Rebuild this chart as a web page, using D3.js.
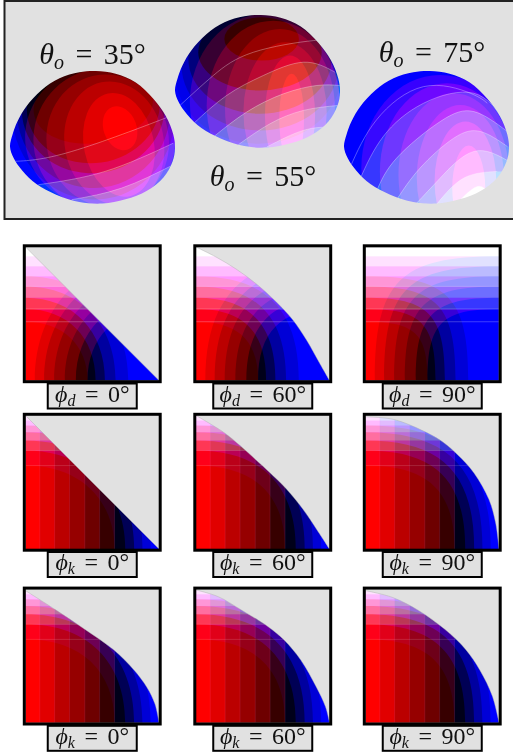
<!DOCTYPE html>
<html>
<head>
<meta charset="utf-8">
<script src="https://cdn.jsdelivr.net/npm/d3@7"></script>
<style>
  html, body { margin: 0; padding: 0; background: #fff; }
  svg { display: block; }
  text { font-family: "Liberation Serif", "DejaVu Serif", serif; fill: #111; }
</style>
</head>
<body>
<div id="chart"></div>
<script>
// channel levels of the colour bands
const redLevels = [55, 110, 150, 187, 225, 255];
const greenLevels = [55, 110, 150, 187, 225, 255];
const blueLevels = [25, 85, 160, 215, 255];

// phi_d row: where the bands meet the frame (unit square, origin bottom left)
const redFootD = [0.465, 0.377, 0.295, 0.215, 0.14, 0.07];
const redTopD = [0.535, 0.62, 0.705, 0.78, 0.855, 0.93];
const blueFootD = [0.465, 0.525, 0.595, 0.675, 0.77];
const blueSideD = [0.44, 0.535, 0.62, 0.705, 0.78];
const greenStepD = [0.535, 0.62, 0.705, 0.78, 0.855, 0.93];

// phi_k rows
const redFootK = [0.667, 0.555, 0.444, 0.33, 0.218, 0.107];
const blueFootK = [0.667, 0.747, 0.814, 0.876, 0.938];
const blueSideK = [0.625, 0.7375, 0.8125, 0.875, 0.925];
const greenStepK = [0.7375, 0.8125, 0.875, 0.925, 0.9625];

// upper limit of each square panel
const edgeD0 = [[0, 1], [1, 0]];
const edgeD60 = [[0, 1], [0.15, 0.925], [0.3, 0.835], [0.45, 0.725], [0.6, 0.59], [0.72, 0.46], [0.83, 0.3], [0.92, 0.14], [1, 0]];
const edgeD90 = [[0, 1], [1, 1], [1, 0]];
const edgeK0 = [[0, 1], [1, 0]];
const edgeK60 = [[0, 1], [0.206, 0.875], [0.33, 0.775], [0.454, 0.6625], [0.55, 0.575], [0.677, 0.45], [0.8, 0.3], [0.91, 0.1375], [1, 0]];
const edgeK90 = [[0, 0.99], [0.2125, 0.97], [0.4625, 0.87], [0.5875, 0.795], [0.6875, 0.708], [0.8125, 0.57], [0.925, 0.37], [0.975, 0.195], [1, 0]];
const edgeK0b = [[0, 0.99], [0.22, 0.85], [0.4375, 0.705], [0.6625, 0.545], [0.8125, 0.395], [0.91, 0.265], [0.97, 0.14], [1, 0]];
const edgeK60b = [[0, 0.995], [0.166, 0.945], [0.34, 0.845], [0.54, 0.72], [0.66, 0.62], [0.785, 0.47], [0.9, 0.27], [0.97, 0.12], [1, 0]];
const edgeK90b = [[0, 0.99], [0.2, 0.94], [0.4, 0.84], [0.594, 0.7], [0.75, 0.55], [0.857, 0.394], [0.95, 0.2], [1, 0]];

const panelEdges = [edgeD0, edgeD60, edgeD90, edgeK0, edgeK60, edgeK90, edgeK0b, edgeK60b, edgeK90b];
const panelSymbols = ["d", "d", "d", "k", "k", "k", "k", "k", "k"];
const panelAngles = ["0", "60", "90", "0", "60", "90", "0", "60", "90"];
const panelBends = [0.6, 0.68, 0.8, 0.6, 0.65, 0.7, 0.62, 0.65, 0.7];

// hemispheres: ellipses are [level, centre u, centre v, radius u, radius v, turn]
const domeAngles = ["35", "55", "75"];
const domeOutline = [[0, 0.43], [0.015, 0.52], [0.045, 0.62], [0.1, 0.735], [0.19, 0.855], [0.3, 0.945], [0.42, 0.99], [0.52, 1], [0.64, 0.98], [0.76, 0.915], [0.87, 0.79], [0.945, 0.66], [0.99, 0.52], [1, 0.42], [0.985, 0.32], [0.93, 0.2], [0.83, 0.1], [0.7, 0.035], [0.56, 0.003], [0.42, 0.015], [0.28, 0.07], [0.16, 0.15], [0.075, 0.25], [0.022, 0.345]];

const dome35Red = [
  [55, 0.556, 0.515, 0.465, 0.5375, -8], [110, 0.572, 0.4825, 0.43, 0.5375, -10], [150, 0.592, 0.475, 0.37, 0.5, -12],
  [187, 0.632, 0.4575, 0.3, 0.4675, -12], [225, 0.66, 0.445, 0.212, 0.395, -12], [255, 0.667, 0.57, 0.1, 0.17, -20]];
const dome35Blue = [
  [215, 0.505, 0.695, 0.495, 0.6625, -8], [160, 0.505, 0.7075, 0.465, 0.5875, -8], [85, 0.505, 0.72, 0.434, 0.4875, -8],
  [25, 0.505, 0.7325, 0.404, 0.425, -8], [0, 0.505, 0.745, 0.364, 0.2875, -8]];
const dome35Green = [
  [8, [[0.01, 0.32], [0.374, 0.395], [0.94, 0.645], [0.99, 0.67]]],
  [55, [[0.172, 0.145], [0.576, 0.245], [0.99, 0.4575]]],
  [110, [[0.374, 0.0325], [0.677, 0.12], [0.99, 0.295]]]];

const dome55Red = [
  [55, 0.545, 0.345, 0.455, 0.6625, 0], [110, 0.596, 0.32, 0.404, 0.6375, 0], [150, 0.636, 0.295, 0.333, 0.6, 0],
  [187, 0.667, 0.27, 0.2525, 0.525, 0], [225, 0.697, 0.245, 0.152, 0.45, 0], [255, 0.707, 0.22, 0.075, 0.3375, 0]];
const dome55Blue = [
  [235, 0.505, 0.57, 0.505, 0.5375, 0], [190, 0.515, 0.62, 0.475, 0.4875, 0], [125, 0.515, 0.67, 0.434, 0.4125, 0],
  [50, 0.515, 0.72, 0.374, 0.2875, 0], [0, 0.525, 0.82, 0.226, 0.1625, 0]];
const dome55Green = [
  [8, [[0.03, 0.32], [0.232, 0.545], [0.475, 0.72], [0.838, 0.8075], [0.94, 0.795]]],
  [55, [[0.111, 0.1825], [0.313, 0.395], [0.535, 0.545], [0.778, 0.645], [0.97, 0.57]]],
  [110, [[0.232, 0.0825], [0.434, 0.27], [0.657, 0.4075], [0.859, 0.47], [1, 0.47]]],
  [150, [[0.384, 0.025], [0.576, 0.1825], [0.778, 0.2825], [0.99, 0.32]]],
  [187, [[0.556, 0.0075], [0.778, 0.1325], [0.96, 0.1575]]]];

const dome75Red = [
  [55, 0.583, 0.27, 0.478, 0.7, 0], [110, 0.624, 0.245, 0.4065, 0.6625, 0], [150, 0.665, 0.22, 0.335, 0.6125, 0],
  [187, 0.705, 0.195, 0.264, 0.55, 0], [225, 0.736, 0.17, 0.187, 0.45, 0], [255, 0.756, 0.12, 0.1, 0.32, 0]];
const dome75Blue = [];
const dome75Green = [
  [8, [[0.035, 0.27], [0.197, 0.6325], [0.482, 0.8825], [0.766, 0.8325], [0.868, 0.7575]]],
  [55, [[0.095, 0.1825], [0.238, 0.5075], [0.482, 0.7575], [0.787, 0.8325], [0.97, 0.62]]],
  [110, [[0.197, 0.095], [0.319, 0.345], [0.583, 0.62], [0.787, 0.695], [0.99, 0.545]]],
  [150, [[0.319, 0.0325], [0.461, 0.27], [0.665, 0.495], [0.827, 0.545], [0.99, 0.4325]]],
  [187, [[0.441, 0.0075], [0.583, 0.195], [0.787, 0.395], [1, 0.32]]],
  [225, [[0.563, 0], [0.726, 0.195], [0.929, 0.245]]],
  [255, [[0.685, 0.0075], [0.787, 0.12], [0.848, 0.12], [0.9, 0.05]]]];

const domeReds = [dome35Red, dome55Red, dome75Red];
const domeBlues = [dome35Blue, dome55Blue, dome75Blue];
const domeGreens = [dome35Green, dome55Green, dome75Green];

// layout
const width = 513, height = 755;
const colLeft = [25.5, 196, 365.5], rowTop = [247, 415.5, 589.3], side = 133.5;
const domeLeft = [10, 175, 344], domeTop = [71, 15, 71], domeW = 165, domeH = 133;
const domeLabelX = [92.5, 263, 432], domeLabelY = [64, 186, 62];
const grey = "#e1e1e1";

const svg = d3.select("#chart").append("svg").attr("width", width).attr("height", height);
const defs = svg.append("defs");
const soft = defs.append("filter").attr("id", "soft").attr("color-interpolation-filters", "sRGB")
  .attr("x", "-5%").attr("y", "-5%").attr("width", "110%").attr("height", "110%");
soft.append("feGaussianBlur").attr("stdDeviation", 0.45);

const channel = {
  r: v => `rgb(${v},0,0)`,
  g: v => `rgb(0,${v},0)`,
  b: v => `rgb(0,0,${v})`
};

// one colour channel: black or full base, blended over the others
function layer(parent, x, y, key, base) {
  const g = parent.append("g").style("mix-blend-mode", "screen");
  g.append("rect")
    .attr("x", x(0)).attr("y", y(1))
    .attr("width", x(1) - x(0)).attr("height", y(0) - y(1))
    .attr("fill", channel[key](base));
  return g;
}

// band region left of and above a foot-to-right-edge arc
function redArc(x, y, foot, top, bend) {
  const p = d3.path();
  p.moveTo(x(foot), y(0));
  p.bezierCurveTo(x(foot), y(bend * top), x(1 - bend * (1 - foot)), y(top), x(1), y(top));
  p.lineTo(x(1), y(1)); p.lineTo(x(0), y(1)); p.lineTo(x(0), y(0));
  p.closePath();
  return p.toString();
}

// band region right of and above a foot-to-left-edge arc
function blueArc(x, y, foot, top, bend) {
  const p = d3.path();
  p.moveTo(x(foot), y(0));
  p.bezierCurveTo(x(foot), y(bend * top), x(bend * foot), y(top), x(0), y(top));
  p.lineTo(x(0), y(1)); p.lineTo(x(1), y(1)); p.lineTo(x(1), y(0));
  p.closePath();
  return p.toString();
}

function drawSquare(i) {
  const left = colLeft[i % 3], top = rowTop[Math.floor(i / 3)];
  const x = d3.scaleLinear().domain([0, 1]).range([left, left + side]);
  const y = d3.scaleLinear().domain([0, 1]).range([top + side, top]);
  const edge = panelEdges[i], bend = panelBends[i];
  const isD = panelSymbols[i] === "d" ? true : false;

  const shape = d3.line().x(d => x(d[0])).y(d => y(d[1]))
    .curve(edge.length > 3 ? d3.curveCatmullRom : d3.curveLinear);
  const clipD = shape(edge) + `L${x(0)},${y(0)}Z`;

  svg.append("rect").attr("x", left).attr("y", top).attr("width", side).attr("height", side).attr("fill", grey);
  defs.append("clipPath").attr("id", "clip" + i).append("path").attr("d", clipD);

  const soften = svg.append("g").attr("filter", "url(#soft)");
  const g = soften.append("g").attr("clip-path", `url(#clip${i})`).style("isolation", "isolate");

  const red = layer(g, x, y, "r", 0);
  (isD ? redFootD : redFootK).forEach((foot, k) => {
    const d = isD ? redArc(x, y, foot, redTopD[k], bend)
      : `M${x(0)},${y(0)}H${x(foot)}V${y(1)}H${x(0)}Z`;
    red.append("path").attr("d", d).attr("fill", channel.r(redLevels[k]));
  });

  const green = layer(g, x, y, "g", 0);
  (isD ? greenStepD : greenStepK).forEach((step, k) => {
    green.append("rect")
      .attr("x", x(0)).attr("y", y(1))
      .attr("width", side).attr("height", y(step) - y(1))
      .attr("fill", channel.g(greenLevels[k]));
  });

  const blue = layer(g, x, y, "b", 0);
  const blueSide = isD ? blueSideD : blueSideK;
  (isD ? blueFootD : blueFootK).forEach((foot, k) => {
    blue.append("path").attr("d", blueArc(x, y, foot, blueSide[k], bend)).attr("fill", channel.b(blueLevels[k]));
  });

  // pale seams of the sampling mesh
  const seams = soften.append("g").attr("clip-path", `url(#clip${i})`);
  const seamSteps = isD ? [greenStepD[0], greenStepD[2], blueSideD[0]] : [greenStepK[0], blueSideK[0]];
  seamSteps.forEach(s => {
    seams.append("line").attr("x1", x(0)).attr("x2", x(1)).attr("y1", y(s)).attr("y2", y(s))
      .attr("stroke", "#fff").attr("stroke-opacity", isD ? 0.35 : 0.2).attr("stroke-width", 0.7);
  });
  if (!isD) {
    redFootK.forEach(foot => {
      seams.append("line").attr("y1", y(0)).attr("y2", y(1)).attr("x1", x(foot)).attr("x2", x(foot))
        .attr("stroke", "#f8f").attr("stroke-opacity", 0.18).attr("stroke-width", 0.6);
    });
  }

  // edge of the valid domain and frame
  svg.append("path").attr("d", shape(edge)).attr("fill", "none").attr("stroke", "#aaa").attr("stroke-width", 0.6)
    .attr("stroke-opacity", 0.7);
  svg.append("rect").attr("x", left - 1.2).attr("y", top - 1.2)
    .attr("width", side + 2.4).attr("height", side + 2.4)
    .attr("fill", "none").attr("stroke", "#000").attr("stroke-width", 3);

  // label box under the panel
  const wide = panelAngles[i] === "0" ? 89 : 99;
  const cx = left + side / 2;
  svg.append("rect").attr("x", cx - wide / 2).attr("y", top + side + 3)
    .attr("width", wide).attr("height", 25)
    .attr("fill", grey).attr("stroke", "#000").attr("stroke-width", 2);
  const t = svg.append("text").attr("x", cx).attr("y", top + side + 21)
    .attr("text-anchor", "middle").attr("font-size", 24).attr("word-spacing", 3.5)
    .attr("filter", "url(#soft)").style("white-space", "pre");
  t.append("tspan").attr("font-style", "italic").text("\u03d5");
  t.append("tspan").attr("font-style", "italic").attr("font-size", 16).attr("dy", 4).text(panelSymbols[i]);
  t.append("tspan").attr("dy", -4).text(` = ${panelAngles[i]}\u00b0`);
}

function drawDome(i) {
  const x = d3.scaleLinear().domain([0, 1]).range([domeLeft[i], domeLeft[i] + domeW]);
  const y = d3.scaleLinear().domain([0, 1]).range([domeTop[i] + domeH, domeTop[i]]);
  const outline = d3.line().x(d => x(d[0])).y(d => y(d[1])).curve(d3.curveCatmullRomClosed);
  defs.append("clipPath").attr("id", "dome" + i).append("path").attr("d", outline(domeOutline));

  const soften = svg.append("g").attr("filter", "url(#soft)");
  const g = soften.append("g").attr("clip-path", `url(#dome${i})`).style("isolation", "isolate");

  const ellipses = (parent, rows, key) => {
    rows.forEach(r => {
      parent.append("ellipse")
        .attr("cx", x(r[1])).attr("cy", y(r[2]))
        .attr("rx", x(r[3]) - x(0)).attr("ry", y(0) - y(r[4]))
        .attr("transform", `rotate(${r[5]},${x(r[1])},${y(r[2])})`)
        .attr("fill", channel[key](r[0]));
    });
  };

  ellipses(layer(g, x, y, "r", 0), domeReds[i], "r");

  const arc = d3.line().x(d => x(d[0])).y(d => y(d[1])).curve(d3.curveNatural);
  const green = layer(g, x, y, "g", 0);
  domeGreens[i].forEach(row => {
    green.append("path")
      .attr("d", arc(row[1]) + `L${x(1.1)},${y(row[1][row[1].length - 1][1])}L${x(1.1)},${y(-0.1)}L${x(-0.1)},${y(-0.1)}Z`)
      .attr("fill", channel.g(row[0]));
  });

  ellipses(layer(g, x, y, "b", 255), domeBlues[i], "b");

  // pale seams along the green steps
  const seams = soften.append("g").attr("clip-path", `url(#dome${i})`);
  domeGreens[i].forEach(row => {
    seams.append("path").attr("d", arc(row[1])).attr("fill", "none")
      .attr("stroke", "#fff").attr("stroke-opacity", 0.4).attr("stroke-width", 0.8);
  });

  const t = svg.append("text").attr("x", domeLabelX[i]).attr("y", domeLabelY[i])
    .attr("text-anchor", "middle").attr("font-size", 30).attr("word-spacing", 4)
    .attr("filter", "url(#soft)").style("white-space", "pre");
  t.append("tspan").attr("font-style", "italic").text("\u03b8");
  t.append("tspan").attr("font-style", "italic").attr("font-size", 20).attr("dy", 5).text("o");
  t.append("tspan").attr("dy", -5).text(` = ${domeAngles[i]}\u00b0`);
}

// top box with the hemispheres
svg.append("rect").attr("x", 4.5).attr("y", 1).attr("width", 520).attr("height", 218)
  .attr("fill", grey).attr("stroke", "#222").attr("stroke-width", 2);

d3.range(3).forEach(i => drawDome(i));
d3.range(9).forEach(i => drawSquare(i));
</script>
</body>
</html>
